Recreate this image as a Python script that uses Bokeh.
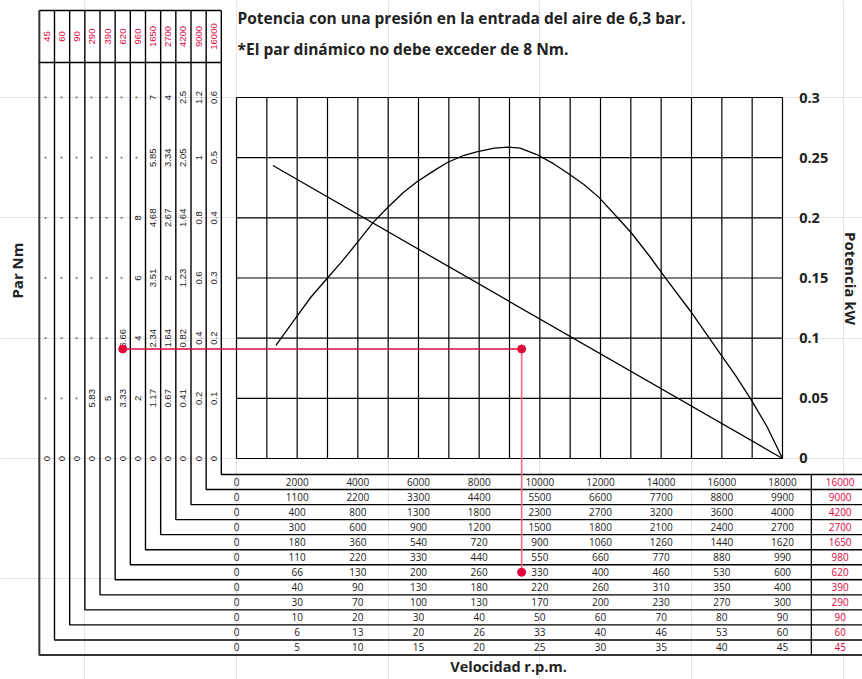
import math
from bokeh.plotting import figure
from bokeh.models import Range1d
from bokeh.embed import file_html
from bokeh.resources import INLINE
from bokeh.core.properties import value

# ---------------- data ----------------
# power curve (kW) against speed of the 16000 rpm version
speed_rpm = [1300, 1900, 2450, 3000, 3450, 4000, 4500, 5000, 5500, 5950, 6500, 6950,
             7500, 7950, 8500, 8950, 9350, 9900, 10450, 10950, 11450, 11950, 12550,
             13000, 13600, 14200, 14950, 15450, 15950, 16450, 16950, 17500, 18000]
power_kw = [0.094, 0.115, 0.134, 0.150, 0.163, 0.180, 0.196, 0.209, 0.221, 0.230, 0.239, 0.246,
            0.252, 0.255, 0.258, 0.2587, 0.258, 0.2526, 0.245, 0.2366, 0.2277, 0.217, 0.2005,
            0.188, 0.1687, 0.148, 0.123, 0.105, 0.087, 0.069, 0.0496, 0.026, 0.0]
# torque line, drawn on the power scale
torque_line_rpm = [1200, 18000]
torque_line_kw = [0.2435, 0.0]

power_ticks = [0, 0.05, 0.1, 0.15, 0.2, 0.25, 0.3]
power_labels = ["0", "0.05", "0.1", "0.15", "0.2", "0.25", "0.3"]
speed_grid = list(range(0, 18001, 1000))

# left table: torque (Nm) per gear, from power level 0 up to 0.3
gear_header = ["45", "60", "90", "290", "390", "620", "960", "1650", "2700", "4200", "9000", "16000"]
torque_45 = ["0", "*", "*", "*", "*", "*", "*"]
torque_60 = ["0", "*", "*", "*", "*", "*", "*"]
torque_90 = ["0", "*", "*", "*", "*", "*", "*"]
torque_290 = ["0", "5.83", "*", "*", "*", "*", "*"]
torque_390 = ["0", "5", "*", "*", "*", "*", "*"]
torque_620 = ["0", "3.33", "6.66", "*", "*", "*", "*"]
torque_960 = ["0", "2", "4", "6", "8", "*", "*"]
torque_1650 = ["0", "1.17", "2.34", "3.51", "4.68", "5.85", "7"]
torque_2700 = ["0", "0.67", "1.64", "2", "2.67", "3.34", "4"]
torque_4200 = ["0", "0.41", "0.82", "1.23", "1.64", "2.05", "2.5"]
torque_9000 = ["0", "0.2", "0.4", "0.6", "0.8", "1", "1.2"]
torque_16000 = ["0", "0.1", "0.2", "0.3", "0.4", "0.5", "0.6"]
torque_columns = [torque_45, torque_60, torque_90, torque_290, torque_390, torque_620,
                  torque_960, torque_1650, torque_2700, torque_4200, torque_9000, torque_16000]

# bottom table: speed (rpm) per gear
speed_row_labels = ["16000", "9000", "4200", "2700", "1650", "980", "620", "390", "290", "90", "60", "45"]
speed_16000 = [0, 2000, 4000, 6000, 8000, 10000, 12000, 14000, 16000, 18000]
speed_9000 = [0, 1100, 2200, 3300, 4400, 5500, 6600, 7700, 8800, 9900]
speed_4200 = [0, 400, 800, 1300, 1800, 2300, 2700, 3200, 3600, 4000]
speed_2700 = [0, 300, 600, 900, 1200, 1500, 1800, 2100, 2400, 2700]
speed_1650 = [0, 180, 360, 540, 720, 900, 1060, 1260, 1440, 1620]
speed_980 = [0, 110, 220, 330, 440, 550, 660, 770, 880, 990]
speed_620 = [0, 66, 130, 200, 260, 330, 400, 460, 530, 600]
speed_390 = [0, 40, 90, 130, 180, 220, 260, 310, 350, 400]
speed_290 = [0, 30, 70, 100, 130, 170, 200, 230, 270, 300]
speed_90 = [0, 10, 20, 30, 40, 50, 60, 70, 80, 90]
speed_60 = [0, 6, 13, 20, 26, 33, 40, 46, 53, 60]
speed_45 = [0, 5, 10, 15, 20, 25, 30, 35, 40, 45]
speed_rows = [speed_16000, speed_9000, speed_4200, speed_2700, speed_1650, speed_980,
              speed_620, speed_390, speed_290, speed_90, speed_60, speed_45]

# worked example (red): gear 620, torque 6.66 Nm
example_gear = "620"
example_speed = 9400
example_power = 0.091

# ---------------- layout ----------------
W, H = 862, 679
X0, X1 = -7780.2, 20637.4
Y0, Y1 = -0.18366, 0.38061
COL_W = 500
ROW_H = 0.0125
TABLE_TOP = -0.0133
HEAD_TOP = 0.3723
HEAD_SEP = 0.3291
SEP_X = 18950
LABEL_X = 19900
RED = "#e2063c"
INK = "#222222"
NCOL = len(gear_header)
LEFT = -500 - NCOL * COL_W

p = figure(width=W, height=H, x_range=Range1d(X0, X1), y_range=Range1d(Y0, Y1),
           output_backend="svg", toolbar_location=None,
           x_axis_location=None, y_axis_location=None,
           min_border=0, outline_line_color=None)
p.background_fill_color = "white"
p.border_fill_color = "white"

# plot grid
p.segment(x0=speed_grid, y0=[0] * len(speed_grid), x1=speed_grid, y1=[0.3] * len(speed_grid),
          line_color="black", line_width=1.2)
p.segment(x0=[0] * len(power_ticks), y0=power_ticks, x1=[18000] * len(power_ticks), y1=power_ticks,
          line_color="black", line_width=1.2)

# curves
p.line(speed_rpm, power_kw, line_color="black", line_width=1.3)
p.line(torque_line_rpm, torque_line_kw, line_color="black", line_width=1.3)

# right axis labels
p.text(x=[18550] * len(power_ticks), y=power_ticks, text=power_labels,
       text_align="left", text_baseline="middle", text_font=value("Open Sans"),
       text_font_style="bold", text_font_size="14.5px", text_color=INK)

# nested L-shaped table lines
xs, ys = [], []
for k in range(NCOL + 1):
    xv = LEFT + k * COL_W
    yv = TABLE_TOP - (NCOL - k) * ROW_H
    xs.append([xv, xv, X1])
    ys.append([HEAD_TOP, yv, yv])
p.multi_line(xs=xs[1:], ys=ys[1:], line_color="black", line_width=1.4)
p.multi_line(xs=xs[:1], ys=ys[:1], line_color="#333333", line_width=2)
p.segment(x0=[LEFT, LEFT], y0=[HEAD_TOP, HEAD_SEP], x1=[-500, -500], y1=[HEAD_TOP, HEAD_SEP],
          line_color="black", line_width=1.4)
p.segment(x0=[SEP_X], y0=[TABLE_TOP], x1=[SEP_X], y1=[TABLE_TOP - NCOL * ROW_H],
          line_color="black", line_width=1.2)

# left table texts
col_centers = [LEFT + (j + 0.5) * COL_W for j in range(NCOL)]
p.text(x=col_centers, y=[(HEAD_TOP + HEAD_SEP) / 2] * NCOL, text=gear_header, angle=math.pi / 2,
       text_align="center", text_baseline="middle", text_font=value("Liberation Sans"),
       text_font_size="9.5px", text_color=RED)
tx, ty, tt = [], [], []
sx, sy = [], []
for j, col in enumerate(torque_columns):
    for lvl, val in zip(power_ticks, col):
        if val == "*":
            sx.append(col_centers[j]); sy.append(lvl)
        else:
            tx.append(col_centers[j]); ty.append(lvl); tt.append(val)
p.text(x=tx, y=ty, text=tt, angle=math.pi / 2, text_align="center", text_baseline="middle",
       text_font=value("Liberation Sans"), text_font_size="9.5px", text_color=INK)
p.text(x=sx, y=sy, text=["*"] * len(sx), angle=math.pi / 2, text_align="center", text_baseline="middle",
       text_font=value("Liberation Sans"), text_font_size="7px", text_color="#444444")

# bottom table texts
bx, by, bt = [], [], []
for i, row in enumerate(speed_rows):
    yc = TABLE_TOP - (i + 0.5) * ROW_H
    for k, v in enumerate(row):
        bx.append(k * 2000); by.append(yc); bt.append(str(v))
p.text(x=bx, y=by, text=bt, text_align="center", text_baseline="middle",
       text_font=value("Open Sans"), text_font_size="10px", text_color=INK)
p.text(x=[LABEL_X] * len(speed_row_labels),
       y=[TABLE_TOP - (i + 0.5) * ROW_H for i in range(len(speed_row_labels))],
       text=speed_row_labels, text_align="center", text_baseline="middle",
       text_font=value("Open Sans"), text_font_size="10px", text_color=RED)

# worked example
gx = col_centers[gear_header.index(example_gear)]
gy = TABLE_TOP - (speed_row_labels.index(example_gear) + 0.5) * ROW_H
p.line([gx, example_speed], [example_power, example_power], line_color=RED, line_width=1.3)
p.line([example_speed, example_speed], [example_power, gy], line_color="#ee6a8a", line_width=1.6)
p.scatter(x=[gx, example_speed, example_speed], y=[example_power, example_power, gy],
          size=8, color=RED)

# titles and axis titles
p.text(x=[0, 0], y=[0.3657, 0.3399],
       text=["Potencia con una presión en la entrada del aire de 6,3 bar.",
             "*El par dinámico no debe exceder de 8 Nm."],
       text_align="left", text_baseline="middle", text_font=value("Open Sans"),
       text_font_style="bold", text_font_size="15.5px", text_color=INK, x_offset=1)
p.text(x=[-7220], y=[0.1562], text=["Par Nm"], angle=math.pi / 2,
       text_align="center", text_baseline="middle", text_font=value("Open Sans"),
       text_font_style="bold", text_font_size="15px", text_color=INK)
p.text(x=[20242], y=[0.1496], text=["Potencia kW"], angle=-math.pi / 2,
       text_align="center", text_baseline="middle", text_font=value("Open Sans"),
       text_font_style="bold", text_font_size="15px", text_color=INK)
p.text(x=[8967], y=[-0.1725], text=["Velocidad r.p.m."],
       text_align="center", text_baseline="middle", text_font=value("Open Sans"),
       text_font_style="bold", text_font_size="14.5px", text_color=INK)

open("out.html", "w").write(file_html(p, INLINE))
